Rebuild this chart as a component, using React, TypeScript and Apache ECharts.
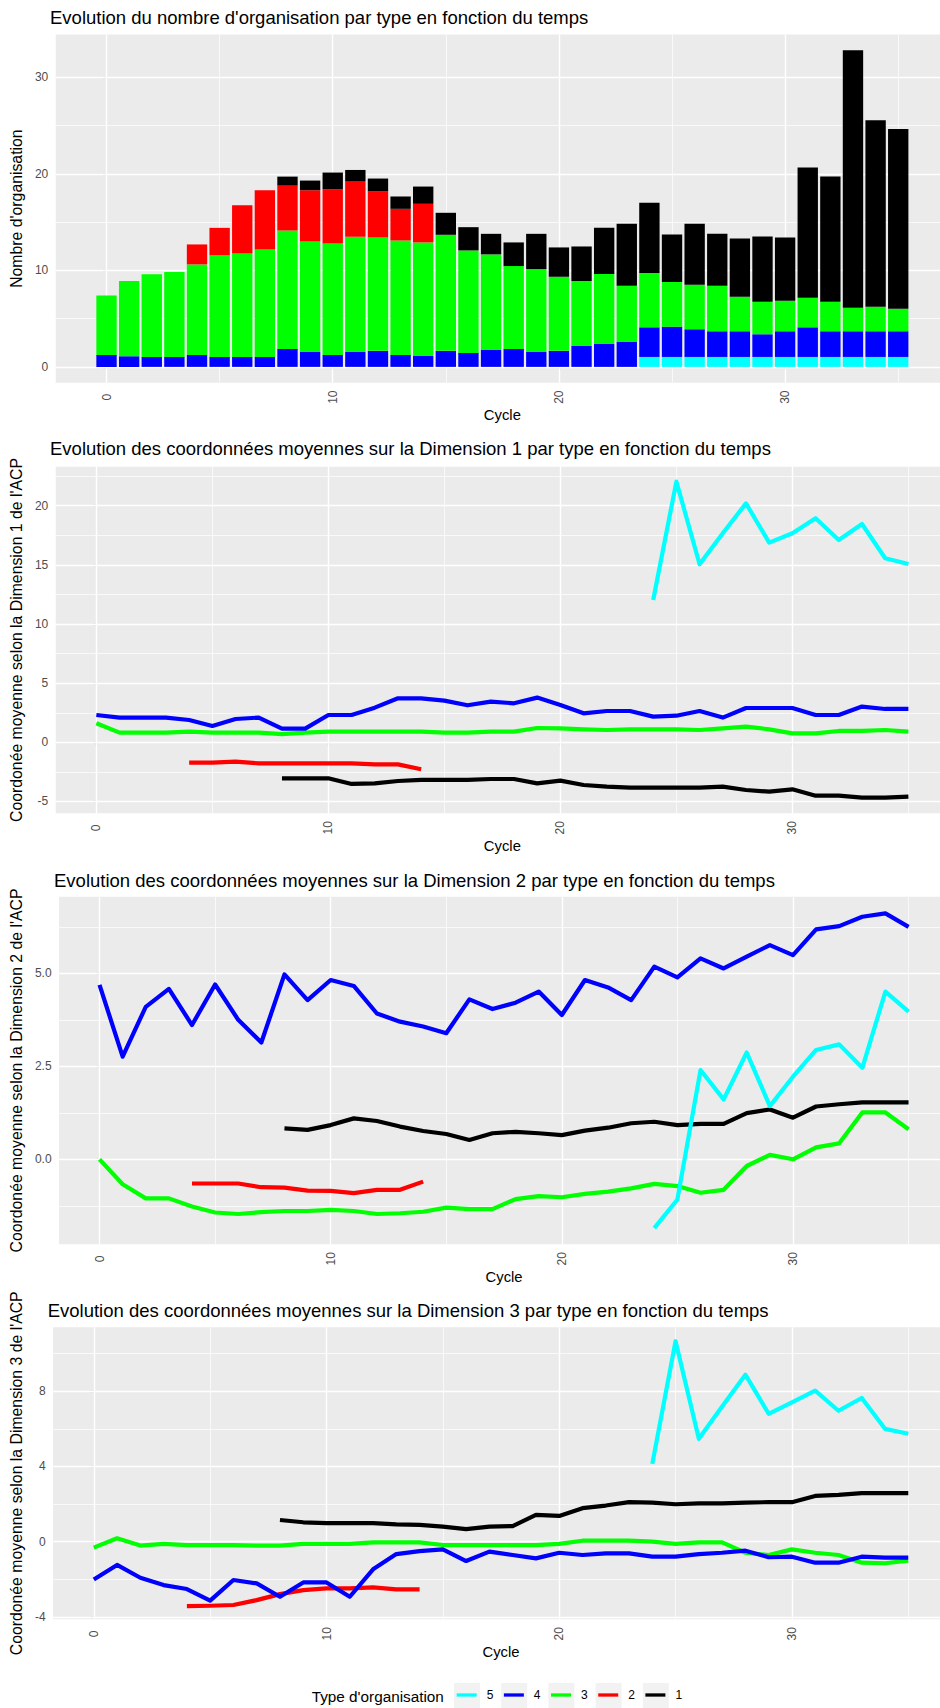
import React, { useEffect, useRef } from "react";
import * as echarts from "echarts";

// ---------- DATA ----------
const cycles = [0,1,2,3,4,5,6,7,8,9,10,11,12,13,14,15,16,17,18,19,20,21,22,23,24,25,26,27,28,29,30,31,32,33,34,35];

// Panel 1: number of organisations per type (stacked, bottom to top: 5, 4, 3, 2, 1)
const count5 = [0,0,0,0,0,0,0,0,0,0,0,0,0,0,0,0,0,0,0,0,0,0,0,0,1.03,1.03,1.03,1.03,1.03,1.03,1.03,1.03,1.03,1.03,1.03,1.03];
const count4 = [1.24,1.1,1.03,1.03,1.24,1.03,1.03,1.03,1.86,1.55,1.24,1.55,1.66,1.24,1.14,1.66,1.45,1.76,1.86,1.55,1.66,2.17,2.38,2.59,3.07,3.14,2.87,2.66,2.66,2.35,2.66,3.07,2.66,2.66,2.66,2.66];
const count3 = [6.17,7.8,8.56,8.8,9.38,10.52,10.73,11.14,12.28,11.45,11.55,11.93,11.75,11.86,11.76,12.03,10.62,9.9,8.59,8.59,7.68,6.73,7.24,5.82,5.62,4.62,4.62,4.72,3.59,3.38,3.17,3.07,3.07,2.45,2.55,2.34];
const count2 = [0,0,0,0,2.07,2.86,5.0,6.14,4.65,5.31,5.62,5.72,4.79,3.28,4.0,0,0,0,0,0,0,0,0,0,0,0,0,0,0,0,0,0,0,0,0,0];
const count1 = [0,0,0,0,0,0,0,0,0.93,1.0,1.73,1.21,1.32,1.28,1.79,2.28,2.41,2.13,2.45,3.65,3.04,3.58,4.79,6.42,7.28,4.93,6.31,5.38,6.03,6.76,6.55,13.49,12.96,26.69,19.31,18.63];

// First cycle of each type's line
const start5 = 24, start4 = 0, start3 = 0, start2 = 4, start1 = 8;

// Panel 2: mean coordinate on Dimension 1
const dim1Type5 = [12.03,22.04,15.05,17.67,20.2,16.88,17.67,18.94,17.1,18.46,15.56,15.08];
const dim1Type4 = [2.31,2.09,2.09,2.09,1.89,1.38,1.97,2.09,1.16,1.16,2.31,2.31,2.93,3.72,3.72,3.52,3.13,3.44,3.3,3.78,3.16,2.45,2.65,2.65,2.17,2.25,2.65,2.09,2.9,2.9,2.9,2.31,2.31,3.02,2.82,2.82];
const dim1Type3 = [1.61,0.82,0.82,0.82,0.9,0.82,0.82,0.82,0.7,0.82,0.9,0.9,0.9,0.9,0.9,0.82,0.82,0.9,0.9,1.21,1.18,1.1,1.04,1.1,1.1,1.1,1.04,1.18,1.32,1.1,0.76,0.76,0.96,0.96,1.04,0.9];
const dim1Type2 = [-1.72,-1.72,-1.63,-1.78,-1.78,-1.78,-1.78,-1.78,-1.86,-1.86,-2.28];
const dim1Type1 = [-3.04,-3.04,-3.04,-3.52,-3.47,-3.27,-3.18,-3.18,-3.18,-3.1,-3.1,-3.47,-3.24,-3.61,-3.75,-3.83,-3.83,-3.83,-3.83,-3.75,-4.03,-4.17,-3.97,-4.51,-4.51,-4.68,-4.68,-4.59];

// Panel 3: mean coordinate on Dimension 2
const dim2Type5 = [-1.85,-1.08,2.4,1.61,2.87,1.43,2.22,2.94,3.09,2.46,4.51,3.97];
const dim2Type4 = [4.69,2.76,4.1,4.58,3.61,4.7,3.75,3.14,4.97,4.28,4.82,4.66,3.92,3.7,3.57,3.39,4.3,4.04,4.21,4.51,3.88,4.82,4.62,4.28,5.18,4.89,5.4,5.13,5.45,5.76,5.49,6.18,6.27,6.52,6.61,6.25];
const dim2Type3 = [0.0,-0.67,-1.05,-1.05,-1.27,-1.43,-1.47,-1.42,-1.39,-1.39,-1.36,-1.39,-1.47,-1.45,-1.41,-1.3,-1.34,-1.34,-1.07,-0.99,-1.02,-0.93,-0.87,-0.78,-0.66,-0.72,-0.9,-0.82,-0.18,0.12,0.0,0.32,0.43,1.26,1.26,0.81];
const dim2Type2 = [-0.65,-0.65,-0.65,-0.75,-0.76,-0.84,-0.85,-0.91,-0.82,-0.82,-0.6];
const dim2Type1 = [0.83,0.79,0.92,1.1,1.03,0.88,0.76,0.68,0.52,0.7,0.74,0.7,0.65,0.77,0.85,0.97,1.01,0.92,0.95,0.95,1.24,1.34,1.12,1.42,1.48,1.53,1.53,1.53];

// Panel 4: mean coordinate on Dimension 3
const dim3Type5 = [4.14,10.66,5.47,7.19,8.88,6.8,7.41,8.03,6.96,7.64,6.0,5.74];
const dim3Type4 = [-2.01,-1.24,-1.92,-2.31,-2.52,-3.14,-2.04,-2.22,-2.93,-2.17,-2.17,-2.93,-1.47,-0.66,-0.5,-0.41,-1.03,-0.53,-0.71,-0.89,-0.59,-0.71,-0.62,-0.62,-0.8,-0.8,-0.66,-0.59,-0.48,-0.83,-0.8,-1.12,-1.12,-0.8,-0.85,-0.85];
const dim3Type3 = [-0.32,0.18,-0.21,-0.12,-0.18,-0.18,-0.18,-0.21,-0.21,-0.12,-0.12,-0.12,-0.04,-0.04,-0.04,-0.18,-0.18,-0.18,-0.18,-0.18,-0.12,0.05,0.05,0.05,0.0,-0.12,-0.04,-0.04,-0.59,-0.71,-0.41,-0.59,-0.71,-1.12,-1.15,-1.01];
const dim3Type2 = [-3.43,-3.41,-3.37,-3.11,-2.79,-2.58,-2.49,-2.49,-2.43,-2.54,-2.54];
const dim3Type1 = [1.15,1.03,0.98,0.98,0.98,0.92,0.89,0.8,0.67,0.8,0.83,1.42,1.37,1.78,1.92,2.1,2.08,1.99,2.04,2.04,2.08,2.1,2.1,2.43,2.49,2.58,2.58,2.58];

const typeNames = ["5", "4", "3", "2", "1"];
const xTickValues = [0, 10, 20, 30];
const xMinorValues = [5, 15, 25, 35];

const titles = [
  "Evolution du nombre d'organisation par type en fonction du temps",
  "Evolution des coordonnées moyennes sur la Dimension 1 par type en fonction du temps",
  "Evolution des coordonnées moyennes sur la Dimension 2 par type en fonction du temps",
  "Evolution des coordonnées moyennes sur la Dimension 3 par type en fonction du temps",
];
const yNames = [
  "Nombre d'organisation",
  "Coordonée moyenne selon la Dimension 1 de l'ACP",
  "Coordonée moyenne selon la Dimension 2 de l'ACP",
  "Coordonée moyenne selon la Dimension 3 de l'ACP",
];
const yTicks = [[0, 10, 20, 30], [-5, 0, 5, 10, 15, 20], [0, 2.5, 5], [-4, 0, 4, 8]];
const yMinors = [[5, 15, 25], [-2.5, 2.5, 7.5, 12.5, 17.5, 22.5], [-1.25, 1.25, 3.75, 6.25], [-2, 2, 6, 10]];
const xLabel = "Cycle";
const legendTitle = "Type d'organisation";

// ---------- STYLE / LAYOUT ----------
const FONT = "'Liberation Sans', Arial, Helvetica, sans-serif";
const COLORS: Record<string, string> = { "5": "#00FFFF", "4": "#0000FF", "3": "#00FF00", "2": "#FF0000", "1": "#000000" };
const PANEL_RIGHT = 949;
const BAR_HALF = 0.45;
const TICK_FONT = 12;
const layout = [
  { left: 50, top: 34.5, bottom: 382.7, xmin: -2.245, xmax: 37.245, ymin: -1.64, ymax: 34.45, titleY: 17, decimals: 0 },
  { left: 50, top: 466.7, bottom: 813.3, xmin: -1.75, xmax: 36.75, ymin: -6.0, ymax: 23.3, titleY: 448.3, decimals: 0 },
  { left: 54, top: 896.7, bottom: 1244.3, xmin: -1.75, xmax: 36.75, ymin: -2.285, ymax: 7.06, titleY: 880, decimals: 1 },
  { left: 47.7, top: 1327.3, bottom: 1619.3, xmin: -1.75, xmax: 36.75, ymin: -4.13, ymax: 11.4, titleY: 1310.3, decimals: 0 },
];

function pairs(values: number[], start: number) {
  return values.map((v, i) => [cycles[start + i], v]);
}

function gridLines(i: number) {
  const L = layout[i];
  const major = { color: "#FFFFFF", width: 1.4, type: "solid" };
  const minor = { color: "#FFFFFF", width: 0.7, type: "solid" };
  const data: any[] = [];
  yMinors[i].forEach((v) => data.push({ yAxis: v, lineStyle: minor }));
  xMinorValues.filter((v) => v > L.xmin && v < L.xmax).forEach((v) => data.push({ xAxis: v, lineStyle: minor }));
  yTicks[i].forEach((v) => data.push({ yAxis: v, lineStyle: major }));
  xTickValues.forEach((v) => data.push({ xAxis: v, lineStyle: major }));
  return {
    silent: true,
    z: 1,
    symbol: ["none", "none"],
    label: { show: false },
    lineStyle: { type: "solid" },
    animation: false,
    data,
  };
}

export default function App() {
  const ref = useRef<HTMLDivElement>(null);

  useEffect(() => {
    if (!ref.current) return;
    const chart = echarts.init(ref.current, null, { renderer: "svg" });

    const grids = layout.map((L) => ({
      left: L.left,
      top: L.top,
      width: PANEL_RIGHT - L.left,
      height: L.bottom - L.top,
      show: true,
      backgroundColor: "#EBEBEB",
      borderWidth: 0,
      containLabel: false,
    }));

    const xAxes = layout.map((L, i) => ({
      type: "value",
      gridIndex: i,
      min: L.xmin,
      max: L.xmax,
      axisLine: { show: false },
      splitLine: { show: false },
      axisTick: { show: true, customValues: xTickValues, length: 3.7, lineStyle: { color: "#333333", width: 1.1 } },
      axisLabel: {
        customValues: xTickValues,
        rotate: 90,
        align: "center",
        verticalAlign: "middle",
        padding: [12, 0, 0, 0],
        margin: 14.5,
        fontSize: TICK_FONT,
        color: "#4D4D4D",
        fontFamily: FONT,
        formatter: (v: number) => String(v),
      },
      name: xLabel,
      nameLocation: "middle",
      nameGap: 25,
      nameTextStyle: { fontSize: 14.8, color: "#000000", fontFamily: FONT },
    }));

    const yAxes = layout.map((L, i) => ({
      type: "value",
      gridIndex: i,
      min: L.ymin,
      max: L.ymax,
      axisLine: { show: false },
      splitLine: { show: false },
      axisTick: { show: true, customValues: yTicks[i], length: 3.7, lineStyle: { color: "#333333", width: 1.1 } },
      axisLabel: {
        customValues: yTicks[i],
        margin: 7.5,
        fontSize: TICK_FONT,
        color: "#4D4D4D",
        fontFamily: FONT,
        formatter: (v: number) => v.toFixed(L.decimals),
      },
      name: yNames[i],
      nameLocation: "middle",
      nameGap: L.left - 25.5,
      nameTextStyle: { fontSize: 15.8, color: "#000000", fontFamily: FONT },
    }));

    // Stacked bars: build [cycle, base, top] rows from the count arrays
    const counts: Record<string, number[]> = { "5": count5, "4": count4, "3": count3, "2": count2, "1": count1 };
    const running = cycles.map(() => 0);
    const barSeries = typeNames.map((t) => {
      const rows = cycles.map((c, i) => {
        const base = running[i];
        const top = base + counts[t][i];
        running[i] = top;
        return [c, base, top];
      });
      const color = COLORS[t];
      return {
        type: "custom",
        name: t,
        xAxisIndex: 0,
        yAxisIndex: 0,
        data: rows,
        encode: { x: 0, y: [1, 2] },
        itemStyle: { color },
        z: 3,
        silent: true,
        renderItem: (params: any, api: any) => {
          const x = api.value(0);
          const b = api.value(1);
          const tp = api.value(2);
          if (!(tp > b)) return null;
          const p0 = api.coord([x - BAR_HALF, tp]);
          const p1 = api.coord([x + BAR_HALF, b]);
          return {
            type: "rect",
            shape: { x: p0[0], y: p0[1], width: p1[0] - p0[0], height: p1[1] - p0[1] },
            style: { fill: color },
          };
        },
      };
    });

    const gridHolder = {
      type: "line",
      name: "grid-lines",
      xAxisIndex: 0,
      yAxisIndex: 0,
      data: [],
      silent: true,
      z: 1,
      markLine: gridLines(0),
    };

    const starts: Record<string, number> = { "5": start5, "4": start4, "3": start3, "2": start2, "1": start1 };
    const dims: Record<string, number[]>[] = [
      { "1": dim1Type1, "2": dim1Type2, "3": dim1Type3, "4": dim1Type4, "5": dim1Type5 },
      { "1": dim2Type1, "2": dim2Type2, "3": dim2Type3, "4": dim2Type4, "5": dim2Type5 },
      { "1": dim3Type1, "2": dim3Type2, "3": dim3Type3, "4": dim3Type4, "5": dim3Type5 },
    ];
    const lineSeries: any[] = [];
    dims.forEach((d, j) => {
      const gi = j + 1;
      ["1", "2", "3", "4", "5"].forEach((t, k) => {
        lineSeries.push({
          type: "line",
          name: t,
          xAxisIndex: gi,
          yAxisIndex: gi,
          data: pairs(d[t], starts[t]),
          showSymbol: false,
          symbol: "none",
          lineStyle: { color: COLORS[t], width: 4.2, cap: "butt", join: "round" },
          itemStyle: { color: COLORS[t] },
          z: 3,
          silent: true,
          emphasis: { disabled: true },
          markLine: k === 0 ? gridLines(gi) : undefined,
        });
      });
    });

    const keyBoxes = typeNames.map((t, i) => ({
      type: "rect",
      shape: { x: 454 + i * 47.2, y: 1683, width: 26, height: 27 },
      style: { fill: "#F2F2F2" },
      silent: true,
      z: 0,
    }));

    const titleTexts = layout.map((L, i) => ({
      type: "text",
      x: L.left,
      y: L.titleY,
      style: { text: titles[i], font: `18.5px ${FONT}`, fill: "#000000", verticalAlign: "middle", align: "left" },
      silent: true,
    }));

    chart.setOption({
      animation: false,
      backgroundColor: "#FFFFFF",
      grid: grids,
      xAxis: xAxes,
      yAxis: yAxes,
      series: [gridHolder, ...barSeries, ...lineSeries],
      legend: {
        data: typeNames,
        left: 456.7,
        top: 1689,
        orient: "horizontal",
        icon: "rect",
        itemWidth: 20,
        itemHeight: 3.3,
        itemGap: 10.5,
        padding: 0,
        selectedMode: false,
        textStyle: { fontSize: TICK_FONT, color: "#000000", fontFamily: FONT, padding: [0, 0, 0, 5] },
      },
      graphic: [
        ...titleTexts,
        ...keyBoxes,
        {
          type: "text",
          x: 311.7,
          y: 1696.5,
          style: { text: legendTitle, font: `15.3px ${FONT}`, fill: "#000000", verticalAlign: "middle", align: "left" },
          silent: true,
        },
      ],
    });

    return () => chart.dispose();
  }, []);

  return (
    <div style={{ position: "absolute", left: 0, top: 0, width: 940, height: 1708, overflow: "hidden", background: "#FFFFFF" }}>
      <div ref={ref} style={{ width: 960, height: 1708 }} />
    </div>
  );
}
